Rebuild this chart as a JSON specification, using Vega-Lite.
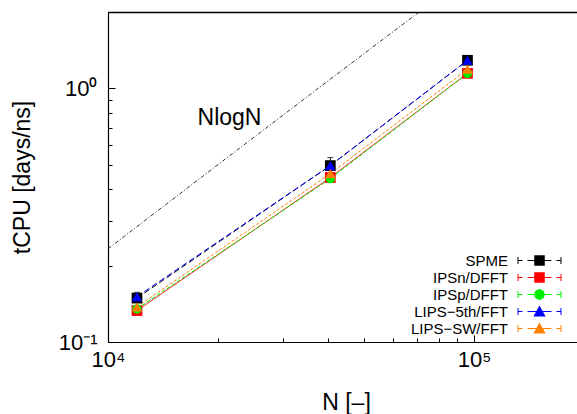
{
  "$schema": "https://vega.github.io/schema/vega-lite/v6.json",
  "autosize": {"type": "none"},
  "padding": {"left": 108, "top": 12, "right": 0, "bottom": 72},
  "width": 469,
  "height": 330,
  "background": "white",
  "datasets": {
    "pts": [
      {"series": "SPME", "N": 12000, "t": 0.149, "lo": 0.142, "hi": 0.157},
      {"series": "SPME", "N": 40500, "t": 0.496, "lo": 0.465, "hi": 0.534},
      {"series": "SPME", "N": 96000, "t": 1.29, "lo": 1.25, "hi": 1.33},
      {"series": "IPSn/DFFT", "N": 12000, "t": 0.133},
      {"series": "IPSn/DFFT", "N": 40500, "t": 0.445},
      {"series": "IPSn/DFFT", "N": 96000, "t": 1.146},
      {"series": "IPSp/DFFT", "N": 12000, "t": 0.135},
      {"series": "IPSp/DFFT", "N": 40500, "t": 0.441},
      {"series": "IPSp/DFFT", "N": 96000, "t": 1.146},
      {"series": "LIPS−5th/FFT", "N": 12000, "t": 0.151},
      {"series": "LIPS−5th/FFT", "N": 40500, "t": 0.496},
      {"series": "LIPS−5th/FFT", "N": 96000, "t": 1.29},
      {"series": "LIPS−SW/FFT", "N": 12000, "t": 0.1375},
      {"series": "LIPS−SW/FFT", "N": 40500, "t": 0.461},
      {"series": "LIPS−SW/FFT", "N": 96000, "t": 1.19}
    ],
    "nlogn": [
      {"N": 10000, "t": 0.233},
      {"N": 20000, "t": 0.5011},
      {"N": 40000, "t": 1.0723},
      {"N": 80000, "t": 2.2848}
    ],
    "lbl": [{"N": 21480, "t": 0.714, "text": "NlogN"}]
  },
  "encoding": {
    "x": {
      "field": "N", "type": "quantitative",
      "scale": {"type": "log", "domain": [10000, 191200]},
      "axis": null
    },
    "y": {
      "field": "t", "type": "quantitative",
      "scale": {"type": "log", "domain": [0.1, 2]},
      "axis": {
        "values": [0.1, 0.2, 0.3, 0.4, 0.5, 0.6, 0.7, 0.8, 0.9, 1, 2],
        "labelExpr": "datum.value == 0.1 ? '10⁻¹' : datum.value == 1 ? '10⁰' : ''",
        "tickSize": {"condition": {"test": "datum.value == 0.1 || datum.value == 1", "value": -7}, "value": -4},
        "labelPadding": 18,
        "labelFlush": false,
        "labelOverlap": false,
        "title": "tCPU [days/ns]",
        "titlePadding": 24
      }
    }
  },
  "layer": [
    {
      "data": {"name": "nlogn"},
      "mark": {"type": "line", "color": "black", "strokeWidth": 0.8, "strokeDash": [4, 2, 1, 2], "clip": true},
      "encoding": {
        "x": {"field": "N", "type": "quantitative", "axis": {"orient": "top", "labels": false, "ticks": false, "title": null, "domainWidth": 1.5}}
      }
    },
    {
      "data": {"name": "lbl"},
      "mark": {"type": "text", "fontSize": 23, "align": "center", "baseline": "alphabetic", "color": "black", "font": "Liberation Sans"},
      "encoding": {"text": {"field": "text"}}
    },
    {
      "data": {"name": "pts"},
      "mark": {"type": "line", "strokeWidth": 1},
      "encoding": {
        "x": {
          "field": "N", "type": "quantitative",
          "axis": {
            "orient": "bottom",
            "values": [10000, 20000, 30000, 40000, 50000, 60000, 70000, 80000, 90000, 100000],
            "labelExpr": "datum.value == 10000 ? '10⁴' : datum.value == 100000 ? '10⁵' : ''",
            "tickSize": {"condition": {"test": "datum.value == 10000 || datum.value == 100000", "value": -7}, "value": -4},
            "labelPadding": 14,
            "labelFlush": false,
            "labelOverlap": false,
            "title": "N [–]",
            "titlePadding": 18,
            "titleX": 238
          }
        },
        "stroke": {"field": "series", "type": "nominal",
          "scale": {"domain": ["SPME", "IPSn/DFFT", "IPSp/DFFT", "LIPS−5th/FFT", "LIPS−SW/FFT"], "range": ["#000000", "#ff0000", "#00ee00", "#0000ff", "#ff8000"]}},
        "strokeDash": {"field": "series", "type": "nominal",
          "scale": {"domain": ["SPME", "IPSn/DFFT", "IPSp/DFFT", "LIPS−5th/FFT", "LIPS−SW/FFT"], "range": [[6, 3], [1, 0], [4, 2], [6, 3], [3, 2]]}}
      }
    },
    {
      "data": {"name": "pts"},
      "transform": [{"filter": "datum.series == 'SPME'"}],
      "mark": {"type": "rule", "color": "black", "strokeWidth": 1},
      "encoding": {"y": {"field": "lo", "type": "quantitative"}, "y2": {"field": "hi"}}
    },
    {
      "data": {"name": "pts"},
      "transform": [{"filter": "datum.series == 'SPME'"}],
      "mark": {"type": "tick", "color": "black", "orient": "horizontal", "size": 6, "thickness": 1},
      "encoding": {"y": {"field": "hi", "type": "quantitative"}}
    },
    {
      "data": {"name": "pts"},
      "transform": [{"filter": {"field": "series", "oneOf": ["SPME", "IPSn/DFFT"]}}],
      "mark": {"type": "square", "size": 115, "filled": true, "opacity": 1},
      "encoding": {
        "fill": {"field": "series", "type": "nominal",
          "scale": {"domain": ["SPME", "IPSn/DFFT", "IPSp/DFFT", "LIPS−5th/FFT", "LIPS−SW/FFT"], "range": ["#000000", "#ff0000", "#00ee00", "#0000ff", "#ff8000"]}}
      }
    },
    {
      "data": {"name": "pts"},
      "transform": [{"filter": {"field": "series", "oneOf": ["IPSp/DFFT"]}}],
      "mark": {"type": "circle", "size": 90, "opacity": 1},
      "encoding": {
        "fill": {"field": "series", "type": "nominal",
          "scale": {"domain": ["SPME", "IPSn/DFFT", "IPSp/DFFT", "LIPS−5th/FFT", "LIPS−SW/FFT"], "range": ["#000000", "#ff0000", "#00ee00", "#0000ff", "#ff8000"]}}
      }
    },
    {
      "data": {"name": "pts"},
      "transform": [{"filter": {"field": "series", "oneOf": ["LIPS−5th/FFT", "LIPS−SW/FFT"]}}],
      "mark": {"type": "point", "shape": "triangle-up", "size": 110, "filled": true, "opacity": 1},
      "encoding": {
        "fill": {"field": "series", "type": "nominal",
          "scale": {"domain": ["SPME", "IPSn/DFFT", "IPSp/DFFT", "LIPS−5th/FFT", "LIPS−SW/FFT"], "range": ["#000000", "#ff0000", "#00ee00", "#0000ff", "#ff8000"]}}
      }
    },
    {
      "data": {"name": "pts"},
      "transform": [{"filter": "false"}],
      "mark": {"type": "point", "filled": true, "opacity": 1},
      "encoding": {
        "color": {"field": "series", "type": "nominal",
          "scale": {"domain": ["SPME", "IPSn/DFFT", "IPSp/DFFT", "LIPS−5th/FFT", "LIPS−SW/FFT"], "range": ["#000000", "#ff0000", "#00ee00", "#0000ff", "#ff8000"]},
          "legend": {"orient": "none", "legendX": 423, "legendY": 240, "title": null, "symbolSize": 289, "rowPadding": 0, "labelAlign": "right", "labelOffset": -40, "labelFontSize": 15, "labelFont": "Liberation Sans", "labelColor": "black", "padding": 0, "symbolStrokeWidth": 0, "symbolOpacity": 1, "labelOpacity": 1, "labelBaseline": "middle"}},
        "shape": {"field": "series", "type": "nominal",
          "scale": {"domain": ["SPME", "IPSn/DFFT", "IPSp/DFFT", "LIPS−5th/FFT", "LIPS−SW/FFT"],
            "range": [
              "M-2.588,-0.41L-2.47,-0.41L-2.47,0.41L-2.588,0.41Z M-2.588,-0.059L-2,-0.059L-2,0.059L-2.588,0.059Z M-1.412,-0.059L1.412,-0.059L1.412,0.059L-1.412,0.059Z M2,-0.059L2.588,-0.059L2.588,0.059L2,0.059Z M2.47,-0.41L2.588,-0.41L2.588,0.41L2.47,0.41Z M-0.62,-0.62L0.62,-0.62L0.62,0.62L-0.62,0.62Z",
              "M-2.588,-0.41L-2.47,-0.41L-2.47,0.41L-2.588,0.41Z M-2.588,-0.059L-2,-0.059L-2,0.059L-2.588,0.059Z M-1.412,-0.059L1.412,-0.059L1.412,0.059L-1.412,0.059Z M2,-0.059L2.588,-0.059L2.588,0.059L2,0.059Z M2.47,-0.41L2.588,-0.41L2.588,0.41L2.47,0.41Z M-0.62,-0.62L0.62,-0.62L0.62,0.62L-0.62,0.62Z",
              "M-2.588,-0.41L-2.47,-0.41L-2.47,0.41L-2.588,0.41Z M-2.588,-0.059L-2,-0.059L-2,0.059L-2.588,0.059Z M-1.412,-0.059L1.412,-0.059L1.412,0.059L-1.412,0.059Z M2,-0.059L2.588,-0.059L2.588,0.059L2,0.059Z M2.47,-0.41L2.588,-0.41L2.588,0.41L2.47,0.41Z M-0.62,0A0.62,0.62 0 1,1 0.62,0A0.62,0.62 0 1,1 -0.62,0Z",
              "M-2.588,-0.41L-2.47,-0.41L-2.47,0.41L-2.588,0.41Z M-2.588,-0.059L-2,-0.059L-2,0.059L-2.588,0.059Z M-1.412,-0.059L1.412,-0.059L1.412,0.059L-1.412,0.059Z M2,-0.059L2.588,-0.059L2.588,0.059L2,0.059Z M2.47,-0.41L2.588,-0.41L2.588,0.41L2.47,0.41Z M0,-0.72L0.72,0.58L-0.72,0.58Z",
              "M-2.588,-0.41L-2.47,-0.41L-2.47,0.41L-2.588,0.41Z M-2.588,-0.059L-2,-0.059L-2,0.059L-2.588,0.059Z M-1.412,-0.059L1.412,-0.059L1.412,0.059L-1.412,0.059Z M2,-0.059L2.588,-0.059L2.588,0.059L2,0.059Z M2.47,-0.41L2.588,-0.41L2.588,0.41L2.47,0.41Z M0,-0.72L0.72,0.58L-0.72,0.58Z"
            ]},
          "legend": {"orient": "none", "legendX": 423, "legendY": 240, "title": null, "symbolSize": 289, "rowPadding": 0, "labelAlign": "right", "labelOffset": -40, "labelFontSize": 15, "labelFont": "Liberation Sans", "labelColor": "black", "padding": 0, "symbolStrokeWidth": 0, "symbolOpacity": 1, "labelOpacity": 1, "labelBaseline": "middle"}}
      }
    }
  ],
  "resolve": {"axis": {"x": "independent"}},
  "config": {
    "font": "Liberation Sans",
    "view": {"stroke": null},
    "axis": {
      "domainColor": "black", "tickColor": "black", "labelColor": "black", "titleColor": "black",
      "grid": false, "labelFontSize": 22, "titleFontSize": 23, "titleFontWeight": "normal",
      "labelFont": "Liberation Sans", "titleFont": "Liberation Sans", "domainWidth": 1.2, "tickWidth": 1
    },
    "legend": {"labelLimit": 300, "disable": true}
  }
}
